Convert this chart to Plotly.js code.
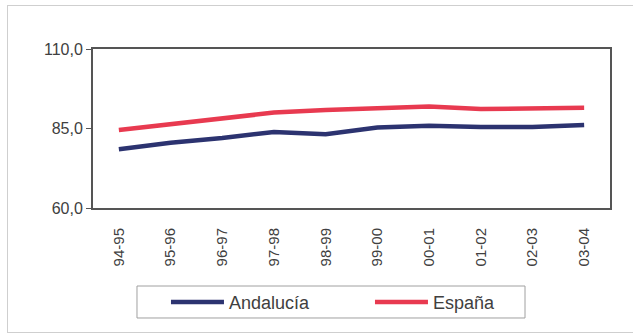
<!DOCTYPE html>
<html>
<head>
<meta charset="utf-8">
<script src="https://cdn.plot.ly/plotly-3.0.1.min.js"></script>
<style>
  html, body { margin: 0; padding: 0; background: #fff; }
  #frame { position: absolute; left: 7px; top: 5px; width: 640px; height: 328px; border: 1px solid #cfcfcf; box-sizing: border-box; }
  #chart { position: absolute; left: 0; top: 0; width: 633px; height: 336px; }
</style>
</head>
<body>
<div id="frame"></div>
<div id="chart"></div>
<script>
const categories = ["94-95", "95-96", "96-97", "97-98", "98-99", "99-00", "00-01", "01-02", "02-03", "03-04"];
const andalucia = [78.5, 80.5, 82.0, 83.9, 83.2, 85.3, 85.9, 85.5, 85.5, 86.1];
const espana = [84.5, 86.4, 88.2, 90.0, 90.8, 91.5, 91.9, 91.1, 91.2, 91.5];
const yTicks = [60, 85, 110];

const traces = [
  { x: categories, y: andalucia, name: "Andalucía", type: "scatter", mode: "lines",
    line: { color: "#2c3370", width: 4.5 } },
  { x: categories, y: espana, name: "España", type: "scatter", mode: "lines",
    line: { color: "#e83a50", width: 4.5 } }
];

const layout = {
  width: 633, height: 336,
  margin: { l: 93, r: 23, t: 49, b: 128 },
  paper_bgcolor: "rgba(0,0,0,0)",
  plot_bgcolor: "#ffffff",
  separators: ",.",
  font: { family: "Liberation Sans, Arial, sans-serif", color: "#404040" },
  xaxis: {
    type: "category",
    range: [-0.5, categories.length - 0.5],
    tickangle: -90,
    tickfont: { size: 15, color: "#404040" },
    showline: true, mirror: true, linecolor: "#555555", linewidth: 2,
    showgrid: false, zeroline: false,
    ticks: "outside", ticklen: 12, tickcolor: "rgba(0,0,0,0)",
    automargin: false
  },
  yaxis: {
    range: [60, 110],
    tickvals: yTicks,
    tickformat: ".1f",
    tickfont: { size: 16, color: "#404040" },
    showline: true, mirror: true, linecolor: "#555555", linewidth: 2,
    showgrid: false, zeroline: false,
    ticks: "outside", ticklen: 5, tickcolor: "#555555", tickwidth: 1,
    automargin: false
  },
  shapes: [{
    type: "rect", xref: "paper", yref: "paper",
    x0: 0.0851, x1: 0.8356, y0: -0.6918, y1: -0.4906,
    line: { color: "#a0a0a0", width: 1 }, fillcolor: "#ffffff", layer: "below"
  }],
  showlegend: true,
  legend: {
    orientation: "h",
    xref: "container", yref: "container",
    x: 0.2622, xanchor: "left",
    y: 0.155, yanchor: "top",
    borderwidth: 0,
    bgcolor: "rgba(0,0,0,0)",
    font: { size: 18, color: "#404040" },
    itemwidth: 53,
    entrywidth: 136, entrywidthmode: "pixels"
  }
};

Plotly.newPlot("chart", traces, layout, { staticPlot: true, displayModeBar: false });
</script>
</body>
</html>
